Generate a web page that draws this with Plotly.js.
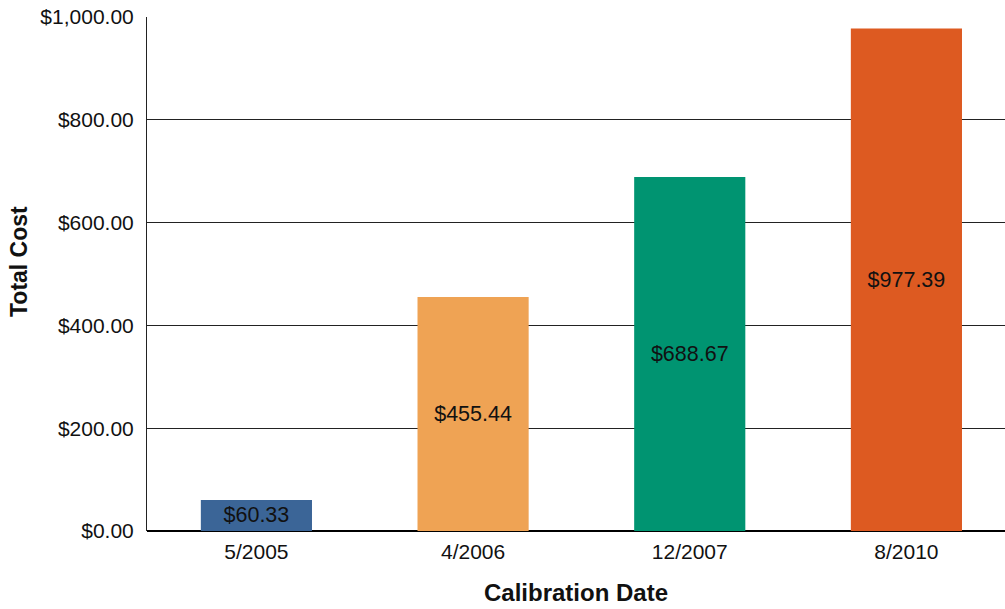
<!DOCTYPE html>
<html><head><meta charset="utf-8">
<script src="https://cdn.plot.ly/plotly-3.0.1.min.js"></script>
<style>html,body{margin:0;padding:0;background:#fff}#c{width:1005px;height:609px}</style>
</head><body><div id="c"></div>
<script>
const categories = ["5/2005", "4/2006", "12/2007", "8/2010"];
const totalCost = [60.33, 455.44, 688.67, 977.39];
const barColors = ["#3B6597", "#EFA354", "#009471", "#DD5A21"];
const yTickVals = [0, 200, 400, 600, 800, 1000];
const yTickText = ["$0.00", "$200.00", "$400.00", "$600.00", "$800.00", "$1,000.00"];

const font = "Liberation Sans, Arial, Helvetica, sans-serif";
const trace = {
  type: "bar",
  x: categories,
  y: totalCost,
  marker: {color: barColors, line: {width: 0}},
  text: totalCost.map(v => "$" + v.toFixed(2)),
  textposition: "inside",
  insidetextanchor: "middle",
  textangle: 0,
  textfont: {family: font, size: 21.5, color: "#111"},
  hoverinfo: "none"
};
const layout = {
  width: 1005, height: 609,
  margin: {l: 147, r: 0, t: 17, b: 78},
  paper_bgcolor: "#fff", plot_bgcolor: "#fff",
  bargap: 0.487,
  showlegend: false,
  font: {family: font, size: 21, color: "#111"},
  xaxis: {
    type: "category",
    range: [-0.505, 3.455],
    showgrid: false, ticks: "", showline: false,
    ticklabelstandoff: 6,
    tickfont: {family: font, size: 21, color: "#111"},
    title: {text: "<b>Calibration Date</b>", font: {family: font, size: 24, color: "#111"}, standoff: 22}
  },
  yaxis: {
    range: [0, 1000],
    tickvals: yTickVals, ticktext: yTickText,
    showgrid: true, gridcolor: "#222", gridwidth: 1,
    zeroline: true, zerolinecolor: "#000", zerolinewidth: 2,
    showline: true, linecolor: "#222", linewidth: 1,
    ticks: "", ticklabelstandoff: 8,
    tickfont: {family: font, size: 21, color: "#111"}
  },
  annotations: [{
    text: "<b>Total Cost</b>",
    xref: "paper", yref: "paper",
    x: (19 - 147) / 858, y: (531 - 262) / 514,
    xanchor: "center", yanchor: "middle",
    textangle: -90, showarrow: false,
    font: {family: font, size: 23, color: "#111"}
  }]
};
Plotly.newPlot("c", [trace], layout, {displayModeBar: false, staticPlot: true});
</script></body></html>
